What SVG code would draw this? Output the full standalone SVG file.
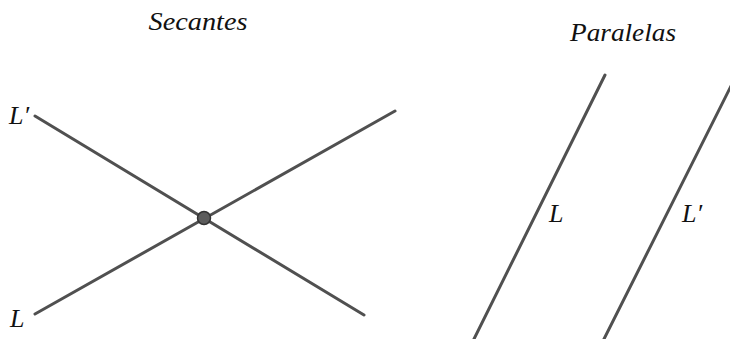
<svg xmlns="http://www.w3.org/2000/svg" width="730" height="339" viewBox="0 0 730 339">
<style>
.ln{stroke:#505050;stroke-width:3;stroke-linecap:round;fill:none}
.t{font-family:"Liberation Serif","DejaVu Serif",serif;font-style:italic;fill:#111}
</style>
<rect width="730" height="339" fill="#fff"/>
<g id="titles">
<text class="t" x="198" y="30" font-size="25" text-anchor="middle" textLength="99" lengthAdjust="spacingAndGlyphs">Secantes</text>
<text class="t" x="623" y="41" font-size="25" text-anchor="middle" textLength="106" lengthAdjust="spacingAndGlyphs">Paralelas</text>
</g>
<g id="connectors">
<line class="ln" x1="35" y1="116" x2="364" y2="315"/>
<line class="ln" x1="35" y1="314" x2="395" y2="111"/>
<line class="ln" x1="605" y1="75" x2="473" y2="341"/>
<line class="ln" x1="732" y1="84" x2="603" y2="341"/>
</g>
<g id="point">
<circle cx="204" cy="218" r="6.5" fill="#5c5c5c" stroke="#333" stroke-width="1.5"/>
</g>
<g id="labels">
<text class="t" x="9" y="124" font-size="26">L′</text>
<text class="t" x="10" y="327" font-size="26">L</text>
<text class="t" x="549" y="222" font-size="26">L</text>
<text class="t" x="682" y="222" font-size="26">L′</text>
</g>
</svg>
